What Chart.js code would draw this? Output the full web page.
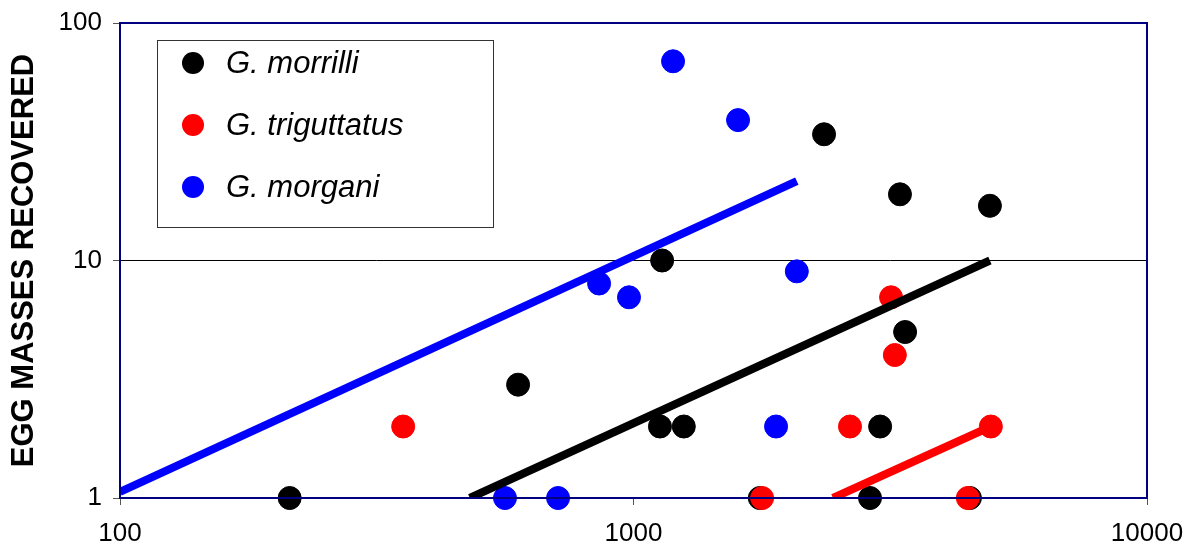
<!DOCTYPE html>
<html>
<head>
<meta charset="utf-8">
<script src="https://cdn.jsdelivr.net/npm/chart.js@4/dist/chart.umd.min.js"></script>
<style>
  html, body { margin: 0; padding: 0; background: #fff; }
  #wrap { width: 1187px; height: 546px; position: relative; }
</style>
</head>
<body>
<div id="wrap"><canvas id="eggChart" width="1187" height="546"></canvas></div>
<script>
// tick labels
const xTicks = [100, 1000, 10000];
const yTicks = [1, 10, 100];

// series names and colours
const seriesNames = ['G. morrilli', 'G. triguttatus', 'G. morgani'];
const seriesColors = ['#000000', '#ff0000', '#0000ff'];

// G. morrilli
const morrilliX = [214, 596, 1137, 1126, 1253, 1762, 2350, 2888, 3022, 3303, 3380, 4520, 4944];
const morrilliY = [1, 3, 10, 2, 2, 1, 34, 1, 2, 19, 5, 1, 17];

// G. triguttatus
const triguttatusX = [356, 1780, 2640, 3174, 3228, 4478, 4965];
const triguttatusY = [2, 1, 2, 7, 4, 1, 2];

// G. morgani
const morganiX = [562, 713, 857, 980, 1194, 1598, 1895, 2080];
const morganiY = [1, 1, 8, 7, 69, 39, 2, 9];

// trend lines (start / end)
const morrilliTrendX = [480, 4944];
const morrilliTrendY = [1, 10];
const triguttatusTrendX = [2446, 4965];
const triguttatusTrendY = [1, 2];
const morganiTrendX = [100, 2080];
const morganiTrendY = [1.06, 21.6];

function pts(xs, ys) {
    return xs.map((x, i) => ({ x: x, y: ys[i] }));
}

function pointSet(idx, xs, ys, order) {
    return {
        label: seriesNames[idx],
        data: pts(xs, ys),
        backgroundColor: seriesColors[idx],
        borderColor: seriesColors[idx],
        borderWidth: 1,
        pointRadius: 11.5,
        pointHoverRadius: 11.5,
        showLine: false,
        clip: 12,
        order: order
    };
}

function trendSet(idx, xs, ys) {
    return {
        label: seriesNames[idx] + ' trend',
        data: pts(xs, ys),
        borderColor: seriesColors[idx],
        borderWidth: 8,
        pointRadius: 0,
        showLine: true,
        order: 0
    };
}

const CHART_LEFT = 120, CHART_BOTTOM = 498;

// plot frame plus boxed legend inside the plot
const framePlugin = {
    id: 'frame',
    afterDraw(chart) {
        const c = chart.ctx;
        const a = chart.chartArea;
        c.save();
        c.strokeStyle = '#000080';
        c.lineWidth = 2;
        c.strokeRect(a.left, a.top, a.right - a.left, a.bottom - a.top);

        // legend
        c.strokeStyle = '#333333';
        c.lineWidth = 1;
        c.strokeRect(157.5, 40.5, 336, 187);
        c.font = 'italic 31px "Liberation Sans", Arial, sans-serif';
        c.textBaseline = 'middle';
        const rows = [63, 125, 187];
        seriesNames.forEach((name, i) => {
            c.fillStyle = seriesColors[i];
            c.beginPath();
            c.arc(193, rows[i], 11, 0, Math.PI * 2);
            c.fill();
            c.fillStyle = '#000000';
            c.fillText(name, 226, rows[i] + 1);
        });
        c.restore();
    }
};

const ctx = document.getElementById('eggChart').getContext('2d');

const eggChart = new Chart(ctx, {
    type: 'scatter',
    data: {
        datasets: [
            trendSet(2, morganiTrendX, morganiTrendY),
            trendSet(0, morrilliTrendX, morrilliTrendY),
            trendSet(1, triguttatusTrendX, triguttatusTrendY),
            pointSet(2, morganiX, morganiY, 1),
            pointSet(1, triguttatusX, triguttatusY, 2),
            pointSet(0, morrilliX, morrilliY, 3)
        ]
    },
    options: {
        responsive: false,
        animation: false,
        events: [],
        layout: {
            padding: { top: 23, right: 40, left: 0, bottom: 0 }
        },
        plugins: {
            legend: { display: false },
            tooltip: { enabled: false }
        },
        scales: {
            x: {
                type: 'logarithmic',
                min: 100,
                max: 10000,
                afterBuildTicks: (s) => { s.ticks = xTicks.map(v => ({ value: v })); },
                afterFit: (s) => {
                    s.height = 546 - CHART_BOTTOM;
                    s.paddingLeft = 0;
                    s.paddingRight = 0;
                },
                border: { display: false },
                grid: {
                    drawOnChartArea: false,
                    drawTicks: true,
                    tickLength: 7,
                    tickColor: '#555555'
                },
                ticks: {
                    color: '#000000',
                    padding: 13,
                    maxRotation: 0,
                    font: { family: '"Liberation Sans", Arial, sans-serif', size: 26 },
                    callback: (v) => String(v)
                }
            },
            y: {
                type: 'logarithmic',
                min: 1,
                max: 100,
                afterBuildTicks: (s) => { s.ticks = yTicks.map(v => ({ value: v })); },
                afterFit: (s) => {
                    s.width = CHART_LEFT;
                    s.paddingTop = 0;
                    s.paddingBottom = 0;
                },
                border: { display: false },
                grid: {
                    drawOnChartArea: true,
                    drawTicks: true,
                    tickLength: 7,
                    color: (c) => (c.tick && c.tick.value === 10 ? '#000000' : 'rgba(0,0,0,0)'),
                    lineWidth: 1,
                    tickColor: '#555555'
                },
                ticks: {
                    color: '#000000',
                    padding: 11,
                    font: { family: '"Liberation Sans", Arial, sans-serif', size: 26 },
                    callback: (v) => String(v)
                },
                title: {
                    display: true,
                    text: 'EGG MASSES RECOVERED',
                    color: '#000000',
                    padding: { top: 6, bottom: 0 },
                    font: { family: '"Liberation Sans", Arial, sans-serif', size: 31, weight: 'bold' }
                }
            }
        }
    },
    plugins: [framePlugin]
});
</script>
</body>
</html>
